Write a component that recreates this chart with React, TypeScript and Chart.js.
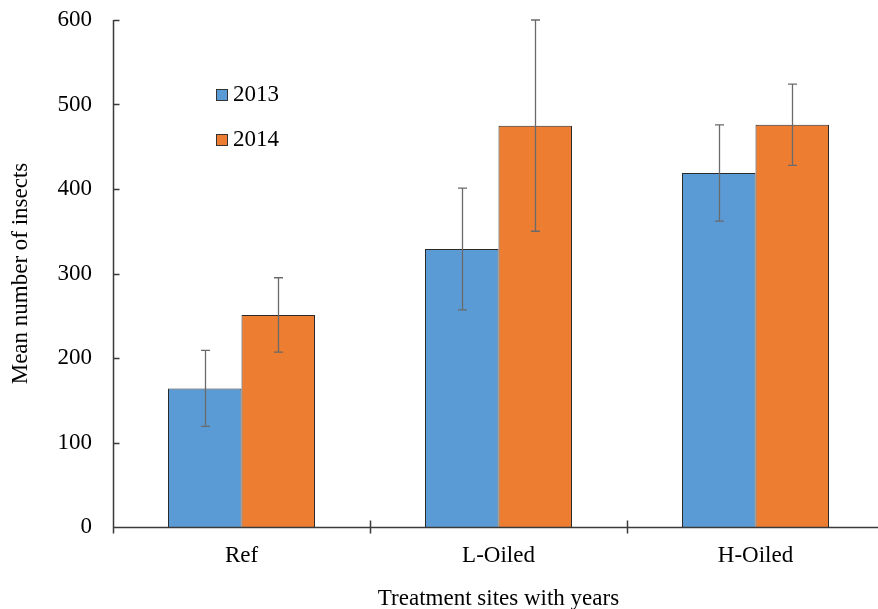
import { useEffect, useRef } from 'react';
import { Chart, registerables } from 'chart.js';

Chart.register(...registerables);

// Mean insect counts per treatment site, with error half-widths
const categories = ['Ref', 'L-Oiled', 'H-Oiled'];
const seriesLabels = ['2013', '2014'];
const values2013 = [164, 329, 419];
const values2014 = [251, 475, 476];
const errors2013 = [45, 72, 57];
const errors2014 = [44, 125, 48];
const yTickValues = [0, 100, 200, 300, 400, 500, 600];

const FONT = '"Liberation Serif", "Times New Roman", Times, serif';
const FONT_SIZE = 23;
const AXIS_COLOR = '#3a3a3a';
const BLUE = '#5B9BD5';
const ORANGE = '#ED7D31';

// Vertical error bars with caps, drawn over each bar
const errorBarPlugin = {
  id: 'errorBars',
  afterDatasetsDraw(chart: any) {
    const { ctx } = chart;
    const yScale = chart.scales.y;
    chart.data.datasets.forEach((ds: any, di: number) => {
      const meta = chart.getDatasetMeta(di);
      meta.data.forEach((bar: any, i: number) => {
        const v = ds.data[i];
        const e = ds.errors[i];
        const yHi = yScale.getPixelForValue(v + e);
        const yLo = yScale.getPixelForValue(v - e);
        const x = Math.round(bar.x) + 0.5;
        const cap = 4.5;
        ctx.save();
        ctx.strokeStyle = '#6a6a6a';
        ctx.lineWidth = 1.3;
        ctx.beginPath();
        ctx.moveTo(x, yHi);
        ctx.lineTo(x, yLo);
        ctx.moveTo(x - cap, yHi);
        ctx.lineTo(x + cap, yHi);
        ctx.moveTo(x - cap, yLo);
        ctx.lineTo(x + cap, yLo);
        ctx.stroke();
        ctx.restore();
      });
    });
  },
};

// Axis lines with inward y ticks and crossing x ticks at category boundaries
const axesPlugin = {
  id: 'axesLines',
  afterDatasetsDraw(chart: any) {
    const { ctx, chartArea } = chart;
    const xScale = chart.scales.x;
    const yScale = chart.scales.y;
    const left = Math.round(chartArea.left) + 0.5;
    const bottom = Math.round(chartArea.bottom) + 0.5;
    ctx.save();
    ctx.strokeStyle = AXIS_COLOR;
    ctx.lineWidth = 1.5;
    ctx.beginPath();
    // y axis
    ctx.moveTo(left, chartArea.top);
    ctx.lineTo(left, bottom + 6);
    // x axis
    ctx.moveTo(left, bottom);
    ctx.lineTo(chartArea.right, bottom);
    // y ticks pointing into the plot
    yTickValues.forEach((t) => {
      const py = Math.round(yScale.getPixelForValue(t)) + 0.5;
      ctx.moveTo(left, py);
      ctx.lineTo(left + 6, py);
    });
    // x ticks between categories
    const step = xScale.getPixelForValue(1) - xScale.getPixelForValue(0);
    for (let i = 1; i < categories.length; i++) {
      const px = Math.round(xScale.getPixelForValue(i) - step / 2) + 0.5;
      ctx.moveTo(px, bottom - 7);
      ctx.lineTo(px, bottom + 6);
    }
    ctx.stroke();
    ctx.restore();
  },
};

// Legend inside the plot area, upper left
const insideLegendPlugin = {
  id: 'insideLegend',
  afterDraw(chart: any) {
    const { ctx, chartArea } = chart;
    const x0 = chartArea.left + 103;
    const y0 = chartArea.top + 75;
    const gap = 45;
    const size = 12;
    ctx.save();
    chart.data.datasets.forEach((ds: any, i: number) => {
      const cy = y0 + i * gap;
      ctx.fillStyle = ds.backgroundColor;
      ctx.fillRect(x0, cy - size / 2, size, size);
      ctx.strokeStyle = '#333';
      ctx.lineWidth = 1;
      ctx.strokeRect(x0 + 0.5, cy - size / 2 + 0.5, size - 1, size - 1);
      ctx.fillStyle = '#000';
      ctx.font = `${FONT_SIZE}px ${FONT}`;
      ctx.textBaseline = 'middle';
      ctx.textAlign = 'left';
      ctx.fillText(ds.label, x0 + size + 5, cy);
    });
    ctx.restore();
  },
};

export default function App() {
  const canvasRef = useRef<HTMLCanvasElement | null>(null);

  useEffect(() => {
    const canvas = canvasRef.current;
    if (!canvas) return;
    const chart = new Chart(canvas, {
      type: 'bar',
      data: {
        labels: categories,
        datasets: [
          {
            label: seriesLabels[0],
            data: values2013,
            errors: errors2013,
            backgroundColor: BLUE,
            borderColor: '#2a2a2a',
            borderWidth: 1,
            categoryPercentage: 0.572,
            barPercentage: 1,
          } as any,
          {
            label: seriesLabels[1],
            data: values2014,
            errors: errors2014,
            backgroundColor: ORANGE,
            borderColor: '#2a2a2a',
            borderWidth: 1,
            categoryPercentage: 0.572,
            barPercentage: 1,
          } as any,
        ],
      },
      options: {
        responsive: false,
        animation: false,
        devicePixelRatio: 1,
        layout: { padding: { top: 20, left: 0, right: 0, bottom: 0 } },
        plugins: {
          legend: { display: false },
          tooltip: { enabled: false },
        },
        scales: {
          x: {
            grid: { display: false, drawTicks: false },
            border: { display: false },
            ticks: {
              color: '#000',
              padding: 15,
              font: { family: FONT, size: FONT_SIZE },
            },
            title: {
              display: true,
              text: 'Treatment sites with years',
              color: '#000',
              font: { family: FONT, size: FONT_SIZE },
              padding: { top: 0, bottom: 7.5 },
            },
            afterFit(scale: any) {
              scale.height = 93;
              scale.paddingLeft = 0;
              scale.paddingRight = 0;
            },
          },
          y: {
            min: 0,
            max: 600,
            grid: { display: false, drawTicks: false },
            border: { display: false },
            afterBuildTicks(scale: any) {
              scale.ticks = yTickValues.map((v) => ({ value: v }));
            },
            ticks: {
              color: '#000',
              padding: 21,
              font: { family: FONT, size: FONT_SIZE },
            },
            title: {
              display: true,
              text: 'Mean number of insects',
              color: '#000',
              font: { family: FONT, size: FONT_SIZE },
              padding: { top: 7.5, bottom: 0 },
            },
            afterFit(scale: any) {
              scale.width = 113;
              scale.paddingTop = 0;
              scale.paddingBottom = 0;
            },
          },
        },
      },
      plugins: [errorBarPlugin, axesPlugin, insideLegendPlugin],
    });
    return () => chart.destroy();
  }, []);

  return (
    <div
      style={{
        position: 'fixed',
        left: 0,
        top: 0,
        width: 878,
        height: 609,
        overflow: 'hidden',
        background: '#fff',
      }}
    >
      <canvas
        ref={canvasRef}
        width={884}
        height={620}
        style={{ display: 'block', width: 884, height: 620 }}
      />
    </div>
  );
}
